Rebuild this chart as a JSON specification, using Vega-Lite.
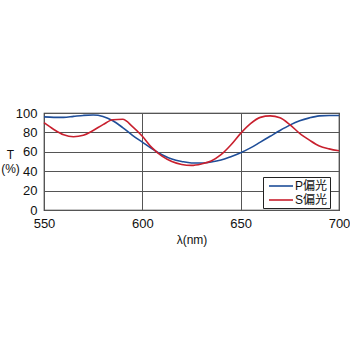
{
  "$schema": "https://vega.github.io/schema/vega-lite/v6.json",
  "autosize": "none",
  "width": 295,
  "height": 97,
  "padding": {"left": 44, "top": 113, "right": 11, "bottom": 140},
  "background": "white",
  "config": {
    "font": "Liberation Sans, Noto Sans CJK JP",
    "view": {"stroke": "#222222", "strokeWidth": 1.2}
  },
  "data": {
    "values": [
      {"wl": 550, "T": 96, "s": "P偏光"},
      {"wl": 555, "T": 95.5, "s": "P偏光"},
      {"wl": 560, "T": 95.5, "s": "P偏光"},
      {"wl": 565, "T": 96.5, "s": "P偏光"},
      {"wl": 570, "T": 97.5, "s": "P偏光"},
      {"wl": 575, "T": 98, "s": "P偏光"},
      {"wl": 580, "T": 96.5, "s": "P偏光"},
      {"wl": 585, "T": 92, "s": "P偏光"},
      {"wl": 590, "T": 85, "s": "P偏光"},
      {"wl": 595, "T": 77, "s": "P偏光"},
      {"wl": 600, "T": 70, "s": "P偏光"},
      {"wl": 605, "T": 63, "s": "P偏光"},
      {"wl": 610, "T": 57, "s": "P偏光"},
      {"wl": 615, "T": 52.5, "s": "P偏光"},
      {"wl": 620, "T": 50, "s": "P偏光"},
      {"wl": 625, "T": 48.5, "s": "P偏光"},
      {"wl": 630, "T": 48.5, "s": "P偏光"},
      {"wl": 635, "T": 49.5, "s": "P偏光"},
      {"wl": 640, "T": 51.5, "s": "P偏光"},
      {"wl": 645, "T": 55, "s": "P偏光"},
      {"wl": 650, "T": 59, "s": "P偏光"},
      {"wl": 655, "T": 64, "s": "P偏光"},
      {"wl": 660, "T": 70, "s": "P偏光"},
      {"wl": 665, "T": 76, "s": "P偏光"},
      {"wl": 670, "T": 82, "s": "P偏光"},
      {"wl": 675, "T": 87.5, "s": "P偏光"},
      {"wl": 680, "T": 92, "s": "P偏光"},
      {"wl": 685, "T": 95, "s": "P偏光"},
      {"wl": 690, "T": 97, "s": "P偏光"},
      {"wl": 695, "T": 97.5, "s": "P偏光"},
      {"wl": 700, "T": 97.5, "s": "P偏光"},
      {"wl": 550, "T": 90, "s": "S偏光"},
      {"wl": 555, "T": 83, "s": "S偏光"},
      {"wl": 560, "T": 77.5, "s": "S偏光"},
      {"wl": 565, "T": 75.5, "s": "S偏光"},
      {"wl": 570, "T": 77, "s": "S偏光"},
      {"wl": 575, "T": 82, "s": "S偏光"},
      {"wl": 580, "T": 88, "s": "S偏光"},
      {"wl": 585, "T": 93, "s": "S偏光"},
      {"wl": 590, "T": 93.5, "s": "S偏光"},
      {"wl": 595, "T": 86, "s": "S偏光"},
      {"wl": 600, "T": 76, "s": "S偏光"},
      {"wl": 605, "T": 64, "s": "S偏光"},
      {"wl": 610, "T": 55.5, "s": "S偏光"},
      {"wl": 615, "T": 50, "s": "S偏光"},
      {"wl": 620, "T": 47, "s": "S偏光"},
      {"wl": 625, "T": 46, "s": "S偏光"},
      {"wl": 630, "T": 47.5, "s": "S偏光"},
      {"wl": 635, "T": 50.5, "s": "S偏光"},
      {"wl": 640, "T": 57, "s": "S偏光"},
      {"wl": 645, "T": 67, "s": "S偏光"},
      {"wl": 650, "T": 79, "s": "S偏光"},
      {"wl": 655, "T": 89, "s": "S偏光"},
      {"wl": 660, "T": 95.5, "s": "S偏光"},
      {"wl": 665, "T": 97, "s": "S偏光"},
      {"wl": 670, "T": 95, "s": "S偏光"},
      {"wl": 675, "T": 88, "s": "S偏光"},
      {"wl": 680, "T": 79, "s": "S偏光"},
      {"wl": 685, "T": 72, "s": "S偏光"},
      {"wl": 690, "T": 66, "s": "S偏光"},
      {"wl": 695, "T": 63, "s": "S偏光"},
      {"wl": 700, "T": 61, "s": "S偏光"}
    ]
  },
  "mark": {"type": "line", "interpolate": "monotone", "strokeWidth": 1.6},
  "encoding": {
    "x": {
      "field": "wl", "type": "quantitative",
      "scale": {"domain": [550, 700], "nice": false},
      "axis": {
        "values": [550, 600, 650, 700], "ticks": false, "domain": false,
        "labelFlush": false,
        "grid": true, "gridColor": "#555555", "gridWidth": 1, "gridOpacity": 1,
        "labelFontSize": 13, "labelColor": "#111111", "labelPadding": 7,
        "title": "λ(nm)", "titleFontSize": 12, "titleFontWeight": "normal",
        "titleColor": "#111111", "titlePadding": 4
      }
    },
    "y": {
      "field": "T", "type": "quantitative",
      "scale": {"domain": [0, 100], "nice": false},
      "axis": {
        "values": [0, 20, 40, 60, 80, 100], "ticks": false, "domain": false,
        "labelFlush": false,
        "grid": true, "gridColor": "#555555", "gridWidth": 1, "gridOpacity": 1,
        "labelFontSize": 13, "labelColor": "#111111", "labelPadding": 7,
        "title": ["T", "(%)"], "titleFontSize": 12, "titleFontWeight": "normal",
        "titleColor": "#111111", "titleAngle": 0, "titleAlign": "center",
        "titleBaseline": "top", "titleX": -34, "titleY": 36, "titleLineHeight": 14
      }
    },
    "color": {
      "field": "s", "type": "nominal",
      "scale": {"domain": ["P偏光", "S偏光"], "range": ["#1f4e99", "#c8202e"]},
      "legend": {
        "title": null, "orient": "none", "legendX": 219, "legendY": 64,
        "strokeColor": "#222222", "fillColor": "white", "padding": 2,
        "symbolType": "M-2,0H2", "symbolSize": 144, "symbolStrokeWidth": 1.6,
        "symbolOffset": 9,
        "labelFontSize": 12, "labelColor": "#111111", "labelOffset": 7,
        "rowPadding": 1, "labelLimit": 100
      }
    }
  }
}
